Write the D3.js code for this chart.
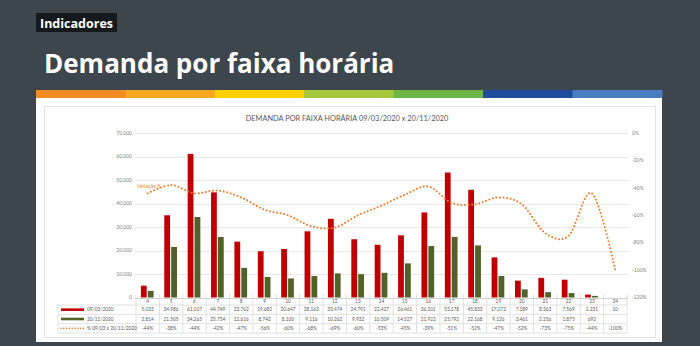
<!DOCTYPE html>
<html><head><meta charset="utf-8">
<script src="https://cdn.jsdelivr.net/npm/d3@7"></script>
<style>html,body{margin:0;padding:0;background:#3d454d;}svg{display:block;}</style>
</head><body>
<svg id="c" width="700" height="346"></svg>
<script>
// ---- data ----
const hours = ['4','5','6','7','8','9','10','11','12','13','14','15','16','17','18','19','20','21','22','23','24'];
const demand0903 = [5033, 34986, 61107, 44749, 23762, 19682, 20647, 28163, 33474, 24791, 22427, 26461, 36201, 53178, 45833, 17072, 7189, 8363, 7569, 1231, 10];
const demand2011 = [2814, 21505, 34265, 25754, 12616, 8742, 8100, 9116, 10262, 9932, 10509, 14527, 21922, 25792, 22168, 9126, 3461, 2256, 1875, 692, null];
const variation = [-44, -38, -44, -42, -47, -56, -60, -68, -69, -60, -53, -45, -39, -51, -52, -47, -52, -73, -75, -44, -100];
const seriesNames = ['09/03/2020', '20/11/2020', '% 09/03 x 20/11/2020'];
const leftTicks = [0, 10000, 20000, 30000, 40000, 50000, 60000, 70000];
const rightTicks = [0, -20, -40, -60, -80, -100, -120];
const stripeColors = ['#f28b21', '#f6a722', '#fed100', '#a6c83b', '#6db646', '#1f4c9b', '#4a7dbf'];
const chartTitle = 'DEMANDA POR FAIXA HORÁRIA 09/03/2020 x 20/11/2020';
const pageTitle = 'Demanda por faixa horária';
const sectionLabel = 'Indicadores';

const loc = d3.formatLocale({decimal: ',', thousands: '.', grouping: [3], currency: ['R$', '']});
const fmt = loc.format(',d');

const svg = d3.select('#c');
svg.append('rect').attr('width', 700).attr('height', 346).attr('fill', '#3d454d');

// header
svg.append('rect').attr('x', 36).attr('y', 13).attr('width', 81).attr('height', 19).attr('fill', '#16191b');
svg.append('text').attr('x', 40).attr('y', 27.5).text(sectionLabel)
  .attr('font-family', 'Open Sans').attr('font-weight', 700).attr('font-size', 12.5).attr('fill', '#fff');
svg.append('text').attr('x', 44).attr('y', 73).text(pageTitle)
  .attr('font-family', 'Open Sans').attr('font-weight', 700).attr('font-size', 26).attr('fill', '#fff');

// stripe
const stripe = d3.scaleBand().domain(d3.range(stripeColors.length)).range([36, 662]);
svg.selectAll('.stripe').data(stripeColors).join('rect')
  .attr('x', (d, i) => stripe(i)).attr('y', 90).attr('width', stripe.bandwidth() + 0.5).attr('height', 8).attr('fill', d => d);

// white panel
svg.append('rect').attr('x', 36).attr('y', 98).attr('width', 626).attr('height', 244).attr('fill', '#fff');
svg.append('rect').attr('x', 44.5).attr('y', 106.5).attr('width', 611).attr('height', 231).attr('fill', '#fff').attr('stroke', '#e3e3e3');

// title
svg.append('text').attr('x', 347).attr('y', 121).attr('text-anchor', 'middle').text(chartTitle)
  .attr('font-family', 'Lato').attr('font-size', 7.4).attr('fill', '#595959');

// scales
const x = d3.scaleBand().domain(hours).range([136, 627]);
const y = d3.scaleLinear().domain([0, 70000]).range([297.5, 133]);
const yr = d3.scaleLinear().domain([-120, 0]).range([297.5, 133]);
const cx = h => x(h) + x.bandwidth() / 2;

// gridlines
svg.selectAll('.grid').data(leftTicks).join('line')
  .attr('x1', 135).attr('x2', 628).attr('y1', d => Math.round(y(d)) + 0.5).attr('y2', d => Math.round(y(d)) + 0.5)
  .attr('stroke', d => d === 0 ? '#d0d0d0' : '#e8e8e8').attr('stroke-width', 1);

// left axis labels
const tickFont = {family: 'Lato', size: 5, fill: '#7f7f7f'};
svg.selectAll('.lt').data(leftTicks).join('text')
  .attr('x', 132).attr('y', d => y(d) + 1.7).attr('text-anchor', 'end').text(d => fmt(d))
  .attr('font-family', tickFont.family).attr('font-size', tickFont.size).attr('fill', tickFont.fill);
// right axis labels
svg.selectAll('.rt').data(rightTicks).join('text')
  .attr('x', 632).attr('y', d => yr(d) + 1.7).text(d => d + '%')
  .attr('font-family', tickFont.family).attr('font-size', tickFont.size).attr('fill', tickFont.fill);

// bars
const bw = 5.8;
svg.selectAll('.b1').data(hours).join('rect')
  .attr('x', (h) => cx(h) - 6.8).attr('width', bw)
  .attr('y', (h, i) => y(demand0903[i])).attr('height', (h, i) => y(0) - y(demand0903[i]))
  .attr('fill', '#c00000');
svg.selectAll('.b2').data(hours.filter((h, i) => demand2011[i] != null)).join('rect')
  .attr('x', (h) => cx(h) + 0.1).attr('width', bw)
  .attr('y', (h) => y(demand2011[hours.indexOf(h)])).attr('height', (h) => y(0) - y(demand2011[hours.indexOf(h)]))
  .attr('fill', '#4f6228');

// line
const line = d3.line().x((d, i) => cx(hours[i])).y(d => yr(d)).curve(d3.curveCatmullRom.alpha(0));
svg.append('path').attr('d', line(variation)).attr('fill', 'none').attr('stroke', '#ed7d31')
  .attr('stroke-width', 2).attr('stroke-dasharray', '0.01 3.6').attr('stroke-linecap', 'round');
svg.append('text').attr('x', 137).attr('y', 187.5).text('Variação %')
  .attr('font-family', 'Lato').attr('font-size', 5).attr('fill', '#ed7d31');

// data table
const rowY = [297.5, 305, 314.3, 323.7, 333];
const g = svg.append('g').attr('stroke', '#d9d9d9').attr('stroke-width', 0.8);
hours.concat(['end']).forEach((h, i) => {
  const xx = i < hours.length ? x(h) : x.range()[1];
  g.append('line').attr('x1', xx).attr('x2', xx).attr('y1', 294).attr('y2', rowY[4]);
});
g.append('line').attr('x1', 58).attr('x2', 58).attr('y1', rowY[1]).attr('y2', rowY[4]);
rowY.slice(1).forEach(yy => g.append('line').attr('x1', 58).attr('x2', 627).attr('y1', yy).attr('y2', yy));

const tf = {family: 'Lato', size: 4.8, fill: '#595959'};
function rowText(vals, r) {
  svg.append('g').selectAll('text').data(vals).join('text')
    .attr('x', (d, i) => cx(hours[i])).attr('y', (rowY[r] + rowY[r + 1]) / 2 + 1.7)
    .attr('text-anchor', 'middle').text(d => d)
    .attr('font-family', tf.family).attr('font-size', tf.size).attr('fill', tf.fill);
}
rowText(hours, 0);
rowText(demand0903.map(v => fmt(v)), 1);
rowText(demand2011.map(v => v == null ? '' : fmt(v)), 2);
rowText(variation.map(v => v + '%'), 3);

// legend keys
const keyColors = ['#c00000', '#4f6228', '#ed7d31'];
seriesNames.forEach((nm, i) => {
  const yy = (rowY[i + 1] + rowY[i + 2]) / 2;
  const l = svg.append('line').attr('x1', 61).attr('x2', 84).attr('y1', yy).attr('y2', yy).attr('stroke', keyColors[i]);
  if (i < 2) l.attr('stroke-width', 2.6);
  else l.attr('stroke-width', 1.6).attr('stroke-dasharray', '0.01 2.8').attr('stroke-linecap', 'round');
  svg.append('text').attr('x', 87).attr('y', yy + 1.7).text(nm)
    .attr('font-family', tf.family).attr('font-size', tf.size).attr('fill', tf.fill);
});
</script>
</body></html>
